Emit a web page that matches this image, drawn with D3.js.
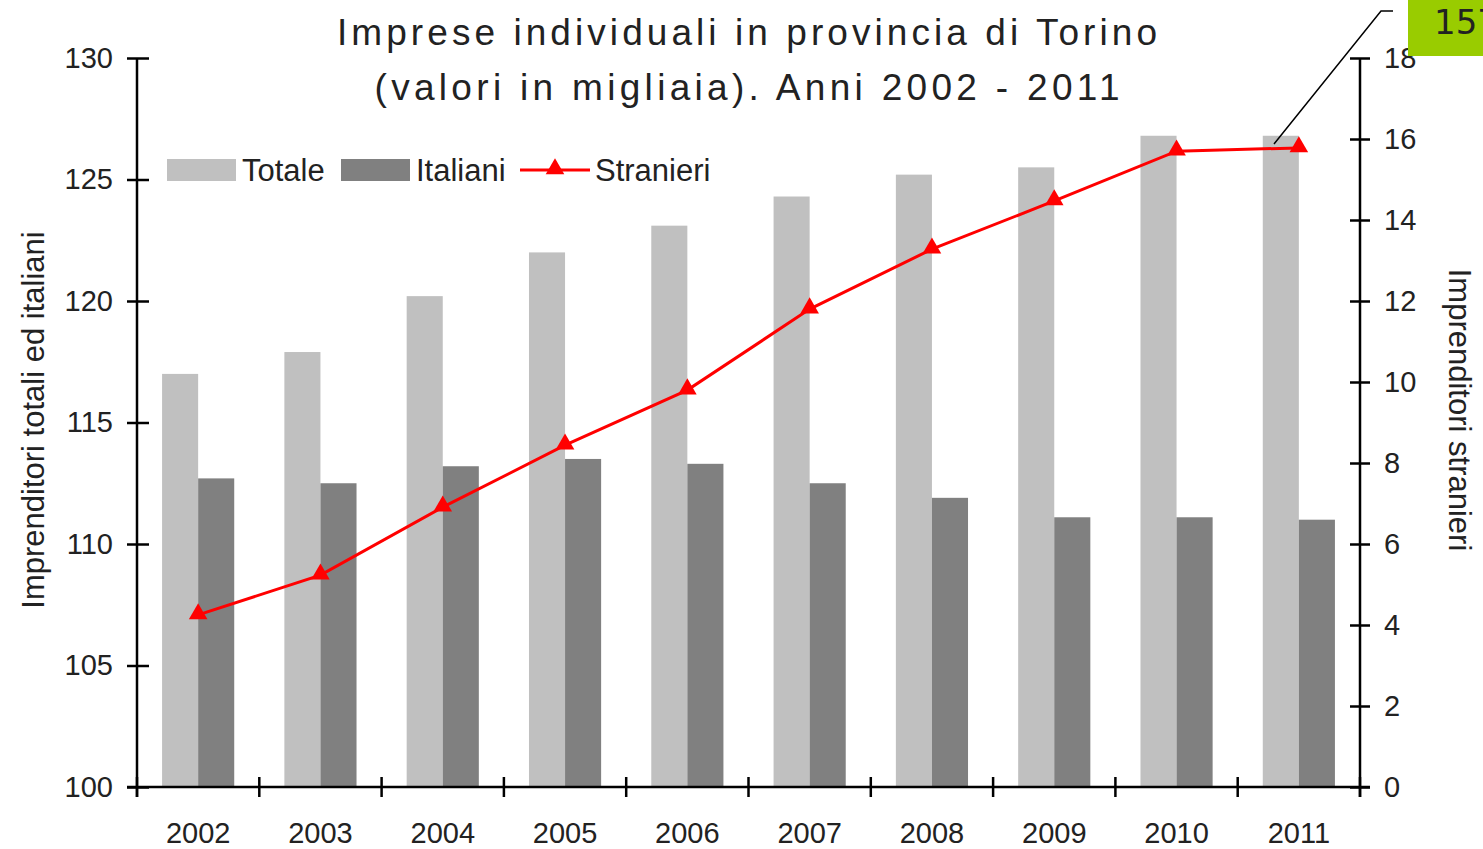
<!DOCTYPE html>
<html>
<head>
<meta charset="utf-8">
<script src="https://cdn.jsdelivr.net/npm/d3@7"></script>
<style>
  body { margin: 0; background: #fff; }
  svg text { font-family: "Liberation Sans", Roboto, sans-serif; fill: #222; }
</style>
</head>
<body>
<div id="chart"></div>
<script>
'use strict';

// Data (migliaia)
const years = ['2002', '2003', '2004', '2005', '2006', '2007', '2008', '2009', '2010', '2011'];
const totale = [117.0, 117.9, 120.2, 122.0, 123.1, 124.3, 125.2, 125.5, 126.8, 126.8];
const italiani = [112.7, 112.5, 113.2, 113.5, 113.3, 112.5, 111.9, 111.1, 111.1, 111.0];
const stranieri = [4.25, 5.23, 6.91, 8.44, 9.8, 11.8, 13.28, 14.47, 15.7, 15.78];
const leftTicks = [100, 105, 110, 115, 120, 125, 130];
const rightTicks = [0, 2, 4, 6, 8, 10, 12, 14, 16, 18];
const titleLines = ['Imprese individuali in provincia di Torino', '(valori in migliaia). Anni 2002 - 2011'];

// Config
const w = 1483, h = 849;
const plot = {left: 137, right: 1360, top: 58, bottom: 787};

const svg = d3.select('#chart')
    .append('svg')
    .attr('width', w)
    .attr('height', h);

// Scales
const xScale = d3.scaleBand()
    .domain(years)
    .range([plot.left, plot.right])
    .paddingInner(0.41)
    .paddingOuter(0.205);

const yLeft = d3.scaleLinear()
    .domain([100, 130])
    .range([plot.bottom, plot.top]);

const yRight = d3.scaleLinear()
    .domain([0, 18])
    .range([plot.bottom, plot.top]);

const bw = xScale.bandwidth() / 2;

// Bars
svg.append('g').selectAll('rect')
    .data(years)
    .join('rect')
    .attr('x', d => xScale(d))
    .attr('y', (d, i) => yLeft(totale[i]))
    .attr('width', bw)
    .attr('height', (d, i) => plot.bottom - yLeft(totale[i]))
    .attr('fill', '#c0c0c0');

svg.append('g').selectAll('rect')
    .data(years)
    .join('rect')
    .attr('x', d => xScale(d) + bw)
    .attr('y', (d, i) => yLeft(italiani[i]))
    .attr('width', bw)
    .attr('height', (d, i) => plot.bottom - yLeft(italiani[i]))
    .attr('fill', '#808080');

// Axes
const tickFont = '29px';

const leftAxis = svg.append('g')
    .attr('transform', `translate(${plot.left},0)`)
    .call(d3.axisLeft(yLeft).tickValues(leftTicks).tickSize(10).tickPadding(14));
leftAxis.selectAll('.tick line').attr('x2', 12).attr('x1', -10);

const rightAxis = svg.append('g')
    .attr('transform', `translate(${plot.right},0)`)
    .call(d3.axisRight(yRight).tickValues(rightTicks).tickSize(10).tickPadding(14));
rightAxis.selectAll('.tick line').attr('x1', -10).attr('x2', 10);

const xAxis = svg.append('g')
    .attr('transform', `translate(0,${plot.bottom})`)
    .call(d3.axisBottom(xScale).tickSize(0).tickPadding(35));

// band boundary ticks
const bounds = years.map(d => xScale(d) - xScale.step() * xScale.paddingInner() / 2).concat([plot.right]);
xAxis.selectAll('.bound')
    .data(bounds)
    .join('line')
    .attr('class', 'bound')
    .attr('x1', d => d).attr('x2', d => d)
    .attr('y1', -10).attr('y2', 10)
    .attr('stroke', '#000')
    .attr('stroke-width', 2.5);

[leftAxis, rightAxis, xAxis].forEach(a => {
    a.select('.domain').remove();
    a.selectAll('.tick line').attr('stroke', '#000').attr('stroke-width', 2.5);
    a.selectAll('text').style('font-size', tickFont).attr('fill', '#222');
});

// axis lines
svg.append('line')
    .attr('x1', plot.left).attr('x2', plot.left)
    .attr('y1', plot.top).attr('y2', plot.bottom + 10)
    .attr('stroke', '#000').attr('stroke-width', 2.5);
svg.append('line')
    .attr('x1', plot.right).attr('x2', plot.right)
    .attr('y1', plot.top).attr('y2', plot.bottom + 10)
    .attr('stroke', '#000').attr('stroke-width', 2.5);
svg.append('line')
    .attr('x1', plot.left - 10).attr('x2', plot.right + 10)
    .attr('y1', plot.bottom).attr('y2', plot.bottom)
    .attr('stroke', '#000').attr('stroke-width', 2.5);

// Stranieri line
const lineX = d => xScale(d) + bw;
const lineMaker = d3.line()
    .x(d => lineX(d))
    .y((d, i) => yRight(stranieri[i]));

svg.append('path')
    .datum(years)
    .attr('d', lineMaker)
    .attr('fill', 'none')
    .attr('stroke', '#ff0000')
    .attr('stroke-width', 3);

const tri = d3.symbol().type(d3.symbolTriangle).size(150);
svg.append('g').selectAll('path')
    .data(years)
    .join('path')
    .attr('d', tri)
    .attr('transform', (d, i) => `translate(${lineX(d)},${yRight(stranieri[i]) - 1})`)
    .attr('fill', '#ff0000');

// Title
svg.append('g').selectAll('text')
    .data(titleLines)
    .join('text')
    .attr('x', 747)
    .attr('y', (d, i) => 45 + i * 55)
    .attr('text-anchor', 'middle')
    .attr('textLength', (d, i) => i === 0 ? 820 : 745)
    .attr('lengthAdjust', 'spacing')
    .style('font-size', '37px')
    .text(d => d);

// Axis titles
svg.append('text')
    .attr('transform', 'translate(44,420) rotate(-90)')
    .attr('text-anchor', 'middle')
    .style('font-size', '31px')
    .text('Imprenditori totali ed italiani');

svg.append('text')
    .attr('transform', 'translate(1449,410) rotate(90)')
    .attr('text-anchor', 'middle')
    .style('font-size', '31px')
    .text('Imprenditori stranieri');

// Legend
const legend = svg.append('g').attr('class', 'legend');
const legItems = [
    {label: 'Totale', x: 167, type: 'rect', color: '#c0c0c0'},
    {label: 'Italiani', x: 341, type: 'rect', color: '#808080'},
    {label: 'Stranieri', x: 520, type: 'line', color: '#ff0000'}
];
legItems.forEach(it => {
    if (it.type === 'rect') {
        legend.append('rect')
            .attr('x', it.x).attr('y', 159)
            .attr('width', 69).attr('height', 22)
            .attr('fill', it.color);
    } else {
        legend.append('line')
            .attr('x1', it.x).attr('x2', it.x + 70)
            .attr('y1', 170).attr('y2', 170)
            .attr('stroke', it.color).attr('stroke-width', 3);
        legend.append('path')
            .attr('d', tri)
            .attr('transform', `translate(${it.x + 35},169)`)
            .attr('fill', it.color);
    }
    legend.append('text')
        .attr('x', it.x + 75)
        .attr('y', 181)
        .style('font-size', '31px')
        .text(it.label);
});

// Callout
svg.append('polyline')
    .attr('points', '1393,11 1381,11 1274,144')
    .attr('fill', 'none')
    .attr('stroke', '#000')
    .attr('stroke-width', 1.5);

svg.append('rect')
    .attr('x', 1408).attr('y', 0)
    .attr('width', 80).attr('height', 56)
    .attr('fill', '#99cc00');

svg.append('text')
    .attr('x', 1434).attr('y', 34)
    .style('font-size', '34px')
    .style('font-family', '"DejaVu Sans", sans-serif')
    .attr('fill', '#000')
    .text('157');
</script>
</body>
</html>
